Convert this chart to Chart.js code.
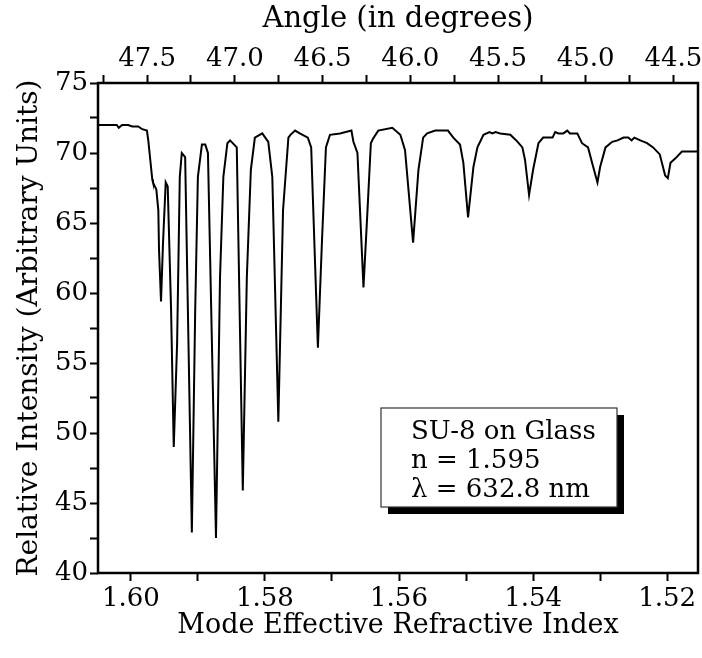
<!DOCTYPE html>
<html>
<head>
<meta charset="utf-8">
<script src="https://cdn.jsdelivr.net/npm/chart.js@4.4.1/dist/chart.umd.min.js"></script>
<style>
  html, body { margin: 0; padding: 0; background: #fff; }
  #grafico { display: block; }
</style>
</head>
<body>
<canvas id="grafico" width="702" height="658"></canvas>
<script>
// Índice efetivo do modo (eixo inferior) e intensidade relativa
const indice = [
  1.6050, 1.6021, 1.6018, 1.6013, 1.6004, 1.5998, 1.5989, 1.5983, 1.5976, 1.5974,
  1.5971, 1.5968, 1.5967, 1.5962, 1.5959, 1.5958, 1.5955, 1.5952, 1.5948, 1.5945,
  1.5940, 1.5936, 1.5931, 1.5927, 1.5924, 1.5919, 1.5909, 1.5904, 1.5900, 1.5894,
  1.5889, 1.5885, 1.5873, 1.5867, 1.5862, 1.5856, 1.5852, 1.5842, 1.5833, 1.5827,
  1.5821, 1.5815, 1.5804, 1.5795, 1.5789, 1.5780, 1.5773, 1.5765, 1.5762, 1.5755,
  1.5748, 1.5736, 1.5731, 1.5721, 1.5715, 1.5709, 1.5703, 1.5688, 1.5671, 1.5668,
  1.5662, 1.5653, 1.5647, 1.5642, 1.5639, 1.5631, 1.5610, 1.5598, 1.5591, 1.5579,
  1.5571, 1.5564, 1.5558, 1.5546, 1.5527, 1.5519, 1.5509, 1.5504, 1.5497, 1.5489,
  1.5483, 1.5474, 1.5465, 1.5461, 1.5456, 1.5449, 1.5434, 1.5425, 1.5416, 1.5412,
  1.5406, 1.5400, 1.5392, 1.5385, 1.5371, 1.5367, 1.5362, 1.5355, 1.5349, 1.5345,
  1.5334, 1.5327, 1.5318, 1.5312, 1.5304, 1.5300, 1.5292, 1.5282, 1.5274, 1.5265,
  1.5258, 1.5253, 1.5249, 1.5240, 1.5230, 1.5221, 1.5211, 1.5203, 1.5199, 1.5195,
  1.5188, 1.5178, 1.5154
];
const intensidade = [
  72.0, 72.0, 71.8, 72.0, 72.0, 71.9, 71.9, 71.7, 71.6, 70.9,
  69.5, 68.1, 67.9, 67.4, 65.9, 63.1, 59.4, 63.6, 67.9, 67.6,
  58.8, 49.0, 56.4, 68.3, 70.0, 69.7, 42.9, 58.8, 68.3, 70.6,
  70.6, 70.0, 42.5, 61.1, 68.3, 70.7, 70.9, 70.4, 45.9, 61.1,
  68.8, 71.1, 71.4, 70.8, 68.3, 50.8, 65.9, 71.1, 71.3, 71.6,
  71.4, 71.1, 70.4, 56.1, 63.6, 70.4, 71.3, 71.4, 71.6, 70.8,
  70.0, 60.4, 65.9, 70.7, 71.0, 71.6, 71.8, 71.3, 70.2, 63.6,
  68.8, 71.1, 71.4, 71.6, 71.6, 71.1, 70.6, 69.3, 65.4, 69.0,
  70.4, 71.3, 71.5, 71.4, 71.5, 71.4, 71.3, 70.9, 70.4, 69.5,
  67.0, 68.8, 70.7, 71.1, 71.1, 71.5, 71.4, 71.4, 71.6, 71.4,
  71.4, 70.7, 70.4, 69.3, 67.9, 69.0, 70.4, 70.8, 70.9, 71.1,
  71.1, 70.9, 71.1, 70.9, 70.7, 70.4, 69.9, 68.4, 68.2, 69.3,
  69.6, 70.1, 70.1
];

// Marcas dos eixos
const rotulosY = [40, 45, 50, 55, 60, 65, 70, 75];
const menoresY = [42.5, 47.5, 52.5, 57.5, 62.5, 67.5, 72.5];
const rotulosIndice = [1.60, 1.58, 1.56, 1.54, 1.52];
const menoresIndice = [1.59, 1.57, 1.55, 1.53];
const rotulosAngulo = [47.5, 47.0, 46.5, 46.0, 45.5, 45.0, 44.5];
const menoresAngulo = [47.75, 47.25, 46.75, 46.25, 45.75, 45.25, 44.75];

const legendaLinhas = ["SU-8 on Glass", "n = 1.595", "\u03bb = 632.8 nm"];

const fonte = { family: "'DejaVu Serif', serif", size: 26 };
const fonteTitulo = { family: "'DejaVu Serif', serif", size: 27 };

function temValor(lista, v) {
  return lista.some(r => Math.abs(r - v) < 1e-6);
}

function marcas(rotulos, menores) {
  return function (scale) {
    scale.ticks = rotulos.concat(menores).sort((a, b) => a - b).map(v => ({ value: v }));
  };
}

const grade = {
  drawOnChartArea: false,
  drawTicks: true,
  tickLength: 8,
  tickWidth: 2,
  tickColor: "#000"
};

// Moldura do gráfico e caixa de legenda com sombra
const molduraPlugin = {
  id: "moldura",
  afterDraw(chart) {
    const ctx = chart.ctx;
    const a = chart.chartArea;
    ctx.save();
    ctx.strokeStyle = "#000";
    ctx.lineWidth = 2.5;
    ctx.strokeRect(a.left, a.top, a.right - a.left, a.bottom - a.top);

    const bx = a.left + 283, by = a.top + 325, bw = 236, bh = 99;
    ctx.fillStyle = "#000";
    ctx.fillRect(bx + 7, by + 7, bw, bh);
    ctx.fillStyle = "#fff";
    ctx.fillRect(bx, by, bw, bh);
    ctx.strokeStyle = "#333";
    ctx.lineWidth = 1.2;
    ctx.strokeRect(bx, by, bw, bh);

    ctx.fillStyle = "#000";
    ctx.font = "26px 'DejaVu Serif', serif";
    ctx.textAlign = "left";
    ctx.textBaseline = "alphabetic";
    legendaLinhas.forEach((t, i) => {
      ctx.fillText(t, bx + 30, by + 31 + i * 29);
    });
    ctx.restore();
  }
};

const ctx = document.getElementById("grafico").getContext("2d");

new Chart(ctx, {
  type: "line",
  data: {
    datasets: [{
      data: indice.map((n, i) => ({ x: n, y: intensidade[i] })),
      borderColor: "#000",
      borderWidth: 2,
      pointRadius: 0,
      tension: 0,
      fill: false
    }]
  },
  options: {
    responsive: false,
    animation: false,
    layout: { padding: { right: 4 } },
    plugins: { legend: { display: false }, tooltip: { enabled: false } },
    scales: {
      x: {
        type: "linear",
        position: "bottom",
        min: 1.5154,
        max: 1.6049,
        reverse: true,
        afterFit(scale) { scale.height = 85; },
        afterBuildTicks: marcas(rotulosIndice, menoresIndice),
        border: { display: false },
        grid: grade,
        ticks: {
          color: "#000",
          font: fonte,
          padding: 3,
          autoSkip: false,
          maxRotation: 0,
          callback: v => temValor(rotulosIndice, v) ? v.toFixed(2) : ""
        },
        title: {
          display: true,
          text: "Mode Effective Refractive Index",
          color: "#000",
          font: fonteTitulo,
          padding: { top: 0, bottom: 16 }
        }
      },
      x2: {
        type: "linear",
        position: "top",
        min: 44.36,
        max: 47.78,
        reverse: true,
        afterFit(scale) { scale.height = 83; },
        afterBuildTicks: marcas(rotulosAngulo, menoresAngulo),
        border: { display: false },
        grid: grade,
        ticks: {
          color: "#000",
          font: fonte,
          padding: 0,
          autoSkip: false,
          maxRotation: 0,
          callback: v => temValor(rotulosAngulo, v) ? v.toFixed(1) : ""
        },
        title: {
          display: true,
          text: "Angle (in degrees)",
          color: "#000",
          font: { family: "'DejaVu Serif', serif", size: 29 },
          padding: { top: 2, bottom: 0 }
        }
      },
      y: {
        type: "linear",
        min: 40,
        max: 75,
        afterFit(scale) { scale.width = 98; },
        afterBuildTicks: marcas(rotulosY, menoresY),
        border: { display: false },
        grid: grade,
        ticks: {
          color: "#000",
          font: fonte,
          padding: 2,
          autoSkip: false,
          callback: v => temValor(rotulosY, v) ? String(v) : ""
        },
        title: {
          display: true,
          text: "Relative Intensity (Arbitrary Units)",
          color: "#000",
          font: { family: "'DejaVu Serif', serif", size: 28 },
          padding: { top: 13, bottom: 0 }
        }
      }
    }
  },
  plugins: [molduraPlugin]
});
</script>
</body>
</html>
